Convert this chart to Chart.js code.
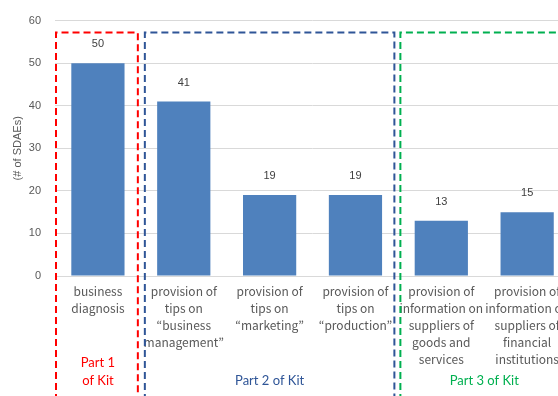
<!DOCTYPE html>
<html><head><meta charset="utf-8">
<script src="https://cdn.jsdelivr.net/npm/chart.js@4/dist/chart.umd.min.js"></script>
<style>html,body{margin:0;padding:0;overflow:hidden;background:#fff;}#wrap{width:576px;height:396px;}</style>
</head><body><div id="wrap"><canvas id="c" width="576" height="396"></canvas></div>
<script>
const categories = [
  ["business","diagnosis"],
  ["provision of","tips on","\u201cbusiness","management\u201d"],
  ["provision of","tips on","\u201cmarketing\u201d"],
  ["provision of","tips on","\u201cproduction\u201d"],
  ["provision of","information on","suppliers of","goods and","services"],
  ["provision of","information on","suppliers of","financial","institutions"]
];
const values = [50, 41, 19, 19, 13, 15];
const yTicks = [0, 10, 20, 30, 40, 50, 60];
const yTitle = "(# of SDAEs)";
const parts = [
  {lines:["Part 1","of Kit"], from:0, to:0, color:"#FF0000"},
  {lines:["Part 2 of Kit"], from:1, to:3, color:"#2F5597"},
  {lines:["Part 3 of Kit"], from:4, to:5, color:"#00B050"}
];

const boxPlugin = {
  id:'boxes',
  afterDraw(chart){
    const ctx = chart.ctx, x = chart.scales.x, y = chart.scales.y;
    const half = (x.getPixelForValue(1)-x.getPixelForValue(0))/2;
    const top = y.getPixelForValue(57.2);
    const bottom = chart.height + 5;
    const insets = [[0,-2],[3,-3],[1,0]];
    parts.forEach((p,i)=>{
      const l = x.getPixelForValue(p.from)-half + insets[i][0];
      const r = x.getPixelForValue(p.to)+half + insets[i][1] + (i===2?40:0);
      ctx.save();
      ctx.strokeStyle = p.color; ctx.lineWidth = 2; ctx.setLineDash([7,4]);
      ctx.beginPath();
      ctx.moveTo(l+1,bottom); ctx.lineTo(l+1,top); ctx.lineTo(r-1,top); ctx.lineTo(r-1,bottom);
      ctx.stroke();
      ctx.restore();
      ctx.save();
      ctx.fillStyle = p.color; ctx.font = '13px Lato'; ctx.textAlign='center'; ctx.textBaseline='middle';
      const cx = (x.getPixelForValue(p.from)+x.getPixelForValue(p.to))/2;
      const startY = p.lines.length===2 ? 363 : 381;
      p.lines.forEach((t,k)=>ctx.fillText(t, cx, startY + k*18));
      ctx.restore();
    });
    const meta = chart.getDatasetMeta(0);
    ctx.save();
    ctx.fillStyle = '#404040'; ctx.font = '11px "Liberation Sans", Arial'; ctx.textAlign='center'; ctx.textBaseline='middle';
    meta.data.forEach((bar,i)=>ctx.fillText(String(values[i]), bar.x, bar.y-19));
    ctx.restore();
  }
};

new Chart(document.getElementById('c'), {
  type:'bar',
  data:{labels:categories, datasets:[{data:values, backgroundColor:'#4F81BD', categoryPercentage:1, barPercentage:0.62}]},
  options:{
    responsive:false, animation:false, devicePixelRatio:1,
    layout:{padding:{top:8,right:0,left:0,bottom:0}},
    plugins:{legend:{display:false}, tooltip:{enabled:false}},
    scales:{
      x:{
        grid:{display:false, drawTicks:false},
        border:{display:true, color:'#D9D9D9', width:1},
        ticks:{color:'#595959', font:{family:'"Noto Sans CJK JP"', size:12, lineHeight:1.42}, maxRotation:0, autoSkip:false, padding:7},
        afterFit(s){ s.height = 120; }
      },
      y:{
        min:0, max:60,
        afterBuildTicks(s){ s.ticks = yTicks.map(v=>({value:v})); },
        grid:{color:'#D9D9D9', drawTicks:false},
        border:{display:false},
        ticks:{color:'#595959', font:{family:'"Liberation Sans", Arial', size:11}, padding:14},
        title:{display:true, text:yTitle, color:'#595959', font:{family:'"Liberation Sans", Arial', size:11}, padding:{top:11,bottom:0}},
        afterFit(s){ s.width = 55; }
      }
    }
  },
  plugins:[boxPlugin]
});
</script>
</body></html>
